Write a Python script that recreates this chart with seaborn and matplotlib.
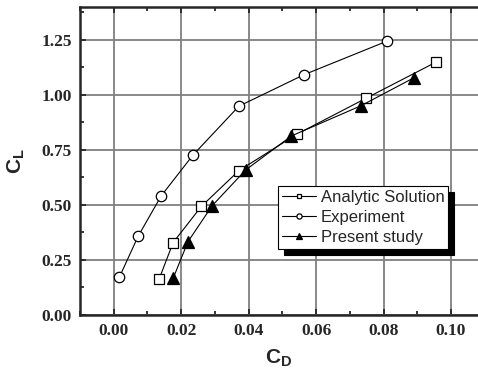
import numpy as np
import pandas as pd
import matplotlib
matplotlib.use("Agg")
import matplotlib.pyplot as plt
from matplotlib.ticker import MultipleLocator, FormatStrFormatter
import seaborn as sns

# values
analytic_cd = [0.0135, 0.0176, 0.0260, 0.0371, 0.0542, 0.0748, 0.0955]
analytic_cl = [0.165, 0.329, 0.494, 0.656, 0.821, 0.985, 1.149]

experiment_cd = [0.0017, 0.0073, 0.0141, 0.0235, 0.0371, 0.0564, 0.0809]
experiment_cl = [0.173, 0.360, 0.542, 0.727, 0.949, 1.092, 1.244]

present_cd = [0.0177, 0.0220, 0.0292, 0.0391, 0.0527, 0.0733, 0.0891]
present_cl = [0.170, 0.333, 0.497, 0.659, 0.814, 0.951, 1.079]

sns.set_style("ticks")
plt.rcParams["mathtext.fontset"] = "custom"
plt.rcParams["mathtext.bf"] = "Liberation Sans:bold"
plt.rcParams["mathtext.rm"] = "Liberation Sans:bold"

fig = plt.figure(figsize=(4.78, 3.79), dpi=100)
ax = fig.add_axes([0.1674, 0.1689, 0.8326, 0.8127])

series = [
    ("Analytic Solution", analytic_cd, analytic_cl, "s", "white", 7),
    ("Experiment", experiment_cd, experiment_cl, "o", "white", 7.5),
    ("Present study", present_cd, present_cl, "^", "black", 8),
]
for name, cd, cl, mk, fc, ms in series:
    df = pd.DataFrame({"CD": cd, "CL": cl})
    sns.lineplot(data=df, x="CD", y="CL", ax=ax, sort=False, color="black",
                 lw=0.8, marker=mk, markersize=ms, markerfacecolor=fc,
                 markeredgecolor="black", markeredgewidth=0.9, label=name)

ax.set_xlim(-0.01, 0.108)
ax.set_ylim(0, 1.4)
ax.xaxis.set_major_locator(MultipleLocator(0.02))
ax.xaxis.set_minor_locator(MultipleLocator(0.01))
ax.yaxis.set_major_locator(MultipleLocator(0.25))
ax.yaxis.set_minor_locator(MultipleLocator(0.125))
ax.xaxis.set_major_formatter(FormatStrFormatter("%.2f"))
ax.yaxis.set_major_formatter(FormatStrFormatter("%.2f"))
ax.grid(True, which="major", color="#7f7f7f", lw=1.3)
ax.set_axisbelow(True)

ax.tick_params(which="both", direction="in", top=True, right=False, width=1.3)
ax.tick_params(which="major", length=4.5, pad=6)
ax.tick_params(which="minor", length=3)
for lab in ax.get_xticklabels() + ax.get_yticklabels():
    lab.set_fontfamily("Liberation Serif")
    lab.set_fontweight("bold")
    lab.set_fontsize(12.5)

for side in ["left", "bottom", "top"]:
    ax.spines[side].set_linewidth(1.8)
ax.spines["right"].set_visible(False)

ax.set_xlabel(r"$\mathbf{C_D}$", fontsize=15, labelpad=6)
ax.set_ylabel(r"$\mathbf{C_L}$", fontsize=15, labelpad=10)

leg = ax.legend(loc="upper left", bbox_to_anchor=((278 - 80) / 398, (315 - 186) / 308),
                bbox_transform=ax.transAxes, frameon=True, fancybox=False,
                prop={"family": "Liberation Sans", "size": 12},
                handlelength=2.0, handletextpad=0.3, borderpad=0.25,
                labelspacing=0.3, markerscale=0.5, borderaxespad=0,
                shadow={"color": "black", "ox": 4, "oy": -4, "alpha": 1})
leg.get_frame().set_edgecolor("black")
leg.get_frame().set_linewidth(0.8)
leg.get_frame().set_alpha(1)

fig.savefig("out.png", dpi=100)
